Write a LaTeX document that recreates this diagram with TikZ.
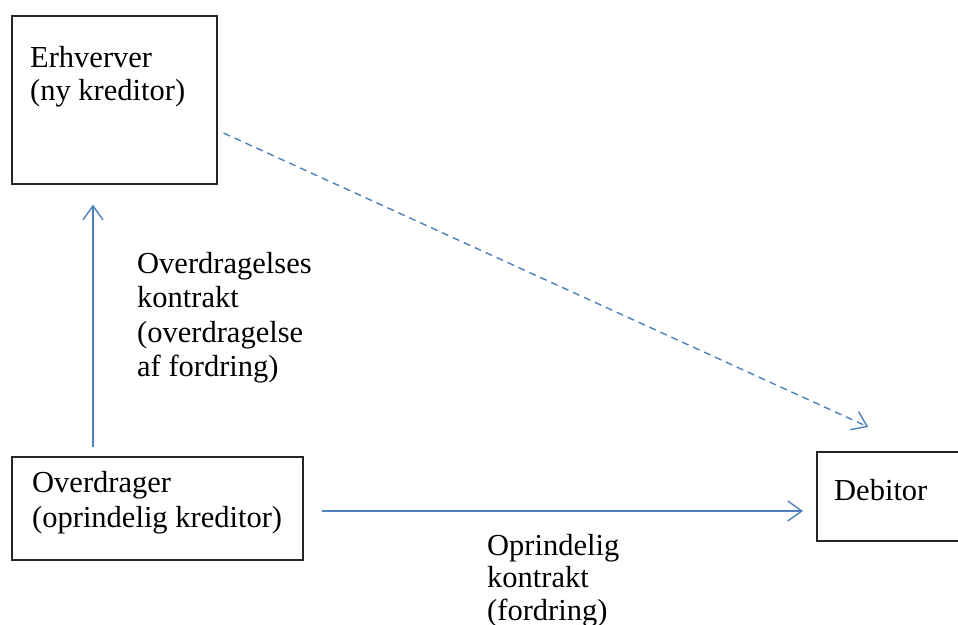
\documentclass[tikz,border=0pt]{standalone}
\usepackage{fontspec}
\setmainfont{Liberation Serif}
\usetikzlibrary{arrows.meta}
\definecolor{arrowblue}{RGB}{79,129,189}
\begin{document}
\begin{tikzpicture}[x=1pt,y=-1pt,
  box/.style={draw=black!85, line width=1.6pt, anchor=north west, inner sep=0pt, fill=white},
  lbl/.style={anchor=base west, inner sep=0pt, font=\fontsize{30.5}{34.5}\selectfont, text=black},
  conn/.style={draw=arrowblue, line width=1.4pt, -{Straight Barb[length=14pt,width=20pt,line width=1.4pt]}},
  dashconn/.style={conn, dash pattern=on 7pt off 5pt}
]
\useasboundingbox (0,0) rectangle (958,624);
\clip (0,0) rectangle (958,624);
\fill[white] (0,0) rectangle (958,624);

% boxes
\node[box, minimum width=205pt, minimum height=168pt] (erh) at (11,15) {};
\node[box, minimum width=291pt, minimum height=103pt] (ovd) at (11,456) {};
\node[box, minimum width=180pt, minimum height=89pt] (deb) at (816,451) {};

% box texts
\node[lbl] (erhtxt) at (30,67) {\vtop{\baselineskip=33.5pt\hbox{Erhverver}\hbox{(ny kreditor)}}};
\node[lbl] (ovdtxt) at (32,492) {\vtop{\baselineskip=35pt\hbox{Overdrager}\hbox{(oprindelig kreditor)}}};
\node[lbl] (debtxt) at (834,500) {Debitor};

% helper coordinates
\coordinate (ax) at (93,0);
\coordinate (hy) at (0,511);
\coordinate (dsy) at (0,130.3);
\coordinate (dex) at (921,0);

% connectors
\draw[conn, shorten <=9pt, shorten >=20pt] (ovd.north -| ax) -- (erh.south -| ax);
\draw[conn, shorten <=18pt, shorten >=13pt] (ovd.east |- hy) -- (deb.west |- hy);
\draw[dashconn, shorten <=6.6pt, shorten >=58pt] (erh.east |- dsy) -- (deb.north -| dex);

% connector labels
\node[lbl] (lab1) at (137,273) {\vtop{\hbox{Overdragelses}\hbox{kontrakt}\hbox{(overdragelse}\hbox{af fordring)}}};
\node[lbl] (lab2) at (487,555) {\vtop{\baselineskip=32.5pt\hbox{Oprindelig}\hbox{kontrakt}\hbox{(fordring)}}};
\end{tikzpicture}
\end{document}
